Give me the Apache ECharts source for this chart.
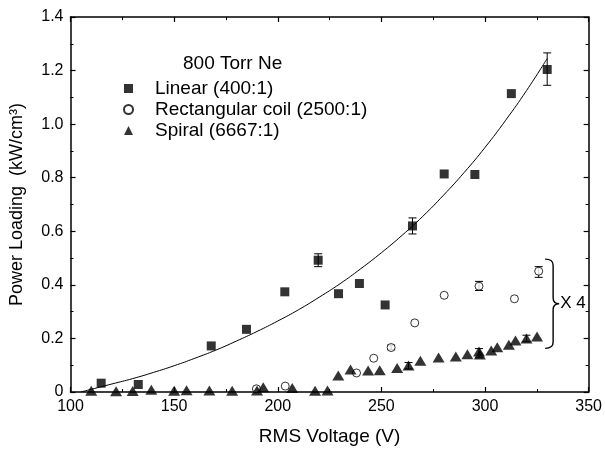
<!DOCTYPE html>
<html>
<head>
<meta charset="utf-8">
<script src="https://cdn.jsdelivr.net/npm/echarts@6/dist/echarts.min.js"></script>
<style>
html,body{margin:0;padding:0;background:#fff;}
#c{width:605px;height:451px;}
</style>
</head>
<body>
<div id="c"></div>
<script>
// ---- data ----
const linearPts = [[114.8,0.033],[132.7,0.028],[167.9,0.172],[184.9,0.234],[203.4,0.374],[219.5,0.492],[229.3,0.367],[239.4,0.405],[251.8,0.325],[265,0.62],[280.3,0.814],[295.1,0.812],[312.7,1.114],[330,1.204]];
const rectPts = [[189.7,0.012],[203.6,0.022],[238,0.071],[246.3,0.126],[254.7,0.166],[266.1,0.258],[280.3,0.361],[297.1,0.395],[314.2,0.348],[325.9,0.451]];
const spiralPts = [[110,0.005],[122,0.003],[130,0.004],[139,0.008],[150,0.005],[156,0.007],[167,0.006],[178,0.005],[190,0.006],[193,0.018],[207,0.015],[218,0.005],[224,0.006],[229.2,0.062],[235.1,0.084],[243.6,0.08],[249.2,0.081],[257.6,0.09],[263.1,0.099],[268.8,0.117],[277.6,0.129],[285.9,0.133],[291.5,0.141],[297.1,0.151],[297.5,0.14],[303,0.155],[305.9,0.167],[311.5,0.176],[314.7,0.192],[320,0.2],[325.1,0.207]];
const fitCurve = [[105,0],[110,0.01],[120,0.03],[130,0.05],[140,0.073],[150,0.098],[160,0.126],[170,0.156],[180,0.19],[190,0.226],[200,0.265],[210,0.307],[220,0.354],[230,0.404],[240,0.46],[250,0.52],[260,0.585],[270,0.656],[280,0.735],[290,0.82],[300,0.913],[310,1.015],[320,1.125],[330,1.245]];
const errLinear = [[219.5,0.468,0.516],[265,0.59,0.65],[330,1.145,1.266]];
const errRect = [[254.7,0.158,0.175],[297.1,0.379,0.413],[325.9,0.428,0.468]];
const errSpiral = [[263.1,0.086,0.11],[297.1,0.128,0.162],[320,0.188,0.212]];
const braceData = [[329,0.496,0.163]];
const braceLabel = 'X 4';
const seriesNames = ['Linear (400:1)','Rectangular coil (2500:1)','Spiral (6667:1)'];
const legendTitle = '800 Torr Ne';
const xName = 'RMS Voltage (V)';
const yName = 'Power Loading  (kW/cm\u00B3)';
const xTicks = {min:100,max:350,interval:50};
const yTicks = {min:0,max:1.4,interval:0.2};

const FONT = 'Liberation Sans, Arial, sans-serif';
const chart = echarts.init(document.getElementById('c'), null, {renderer:'canvas'});

function errRender(params, api){
  const x = api.value(0), lo = api.value(1), hi = api.value(2);
  const a = api.coord([x, lo]), b = api.coord([x, hi]);
  const w = 4;
  const st = {stroke:'#000', lineWidth:1};
  return {type:'group', children:[
    {type:'line', shape:{x1:a[0],y1:a[1],x2:b[0],y2:b[1]}, style:st},
    {type:'line', shape:{x1:a[0]-w,y1:a[1],x2:a[0]+w,y2:a[1]}, style:st},
    {type:'line', shape:{x1:b[0]-w,y1:b[1],x2:b[0]+w,y2:b[1]}, style:st}
  ]};
}
function braceRender(params, api){
  const x = api.value(0);
  const t = api.coord([x, api.value(1)]), b = api.coord([x, api.value(2)]);
  const x0 = t[0], x1 = x0 + 8, x2 = x0 + 14;
  const yT = t[1], yB = b[1], yM = (yT + yB) / 2, r = 6;
  const d = `M${x0} ${yT} Q${x1} ${yT} ${x1} ${yT+r} L${x1} ${yM-r} Q${x1} ${yM} ${x2} ${yM} Q${x1} ${yM} ${x1} ${yM+r} L${x1} ${yB-r} Q${x1} ${yB} ${x0} ${yB}`;
  return {type:'group', children:[
    {type:'path', shape:{pathData:d}, style:{stroke:'#000', fill:null, lineWidth:1.4}},
    {type:'text', x:x2+1, y:yM, style:{text:braceLabel, font:'17px '+FONT, fill:'#000', verticalAlign:'middle', align:'left'}}
  ]};
}

const axisCommon = {
  axisLine:{show:true, onZero:false, lineStyle:{color:'#000', width:1.5}},
  axisTick:{show:true, inside:true, length:5, lineStyle:{color:'#000', width:1.2}},
  minorTick:{show:true, splitNumber:2, length:3, lineStyle:{color:'#000', width:1}},
  splitLine:{show:false}
};

chart.setOption({
  animation:false,
  backgroundColor:'#fff',
  title:{text:legendTitle, left:178, top:49, textStyle:{fontSize:19, fontWeight:'normal', color:'#000', fontFamily:FONT}},
  legend:{
    data:seriesNames, orient:'vertical', left:118, top:74, itemWidth:9, itemHeight:9, itemGap:2,
    textStyle:{fontSize:19, color:'#000', fontFamily:FONT, padding:[0,0,0,17]}
  },
  grid:{left:70.5, right:13, top:17, bottom:55, containLabel:false},
  xAxis:[
    Object.assign({type:'value', min:xTicks.min, max:xTicks.max, interval:xTicks.interval, position:'bottom',
      name:xName, nameLocation:'middle', nameGap:35, nameTextStyle:{fontSize:19, color:'#000', fontFamily:FONT},
      axisLabel:{fontSize:16, color:'#000', fontFamily:FONT, margin:7}}, axisCommon),
    Object.assign({type:'value', min:xTicks.min, max:xTicks.max, interval:xTicks.interval, position:'top',
      axisLabel:{show:false}}, axisCommon)
  ],
  yAxis:[
    Object.assign({type:'value', min:yTicks.min, max:yTicks.max, interval:yTicks.interval, position:'left',
      name:yName, nameLocation:'middle', nameGap:44, nameTextStyle:{fontSize:18, color:'#000', fontFamily:FONT},
      axisLabel:{fontSize:16, color:'#000', fontFamily:FONT, margin:7, formatter:v => v===0 ? '0' : v.toFixed(1)}}, axisCommon),
    Object.assign({type:'value', min:yTicks.min, max:yTicks.max, interval:yTicks.interval, position:'right',
      axisLabel:{show:false}}, axisCommon)
  ],
  series:[
    {name:'fit', type:'line', data:fitCurve, smooth:true, showSymbol:false, symbol:'none',
      lineStyle:{color:'#000', width:1}, z:2, silent:true},
    {name:seriesNames[0], type:'scatter', data:linearPts, symbol:'rect', symbolSize:9,
      itemStyle:{color:'#000'}, z:5},
    {name:seriesNames[1], type:'scatter', data:rectPts, symbol:'circle', symbolSize:8,
      itemStyle:{color:'#fff', borderColor:'#000', borderWidth:1}, z:5},
    {name:seriesNames[2], type:'scatter', data:spiralPts, symbol:'triangle', symbolSize:[12,10],
      itemStyle:{color:'#000'}, z:5},
    {type:'custom', data:errLinear, renderItem:errRender, encode:{x:0, y:[1,2]}, z:4, silent:true},
    {type:'custom', data:errRect, renderItem:errRender, encode:{x:0, y:[1,2]}, z:4, silent:true},
    {type:'custom', data:errSpiral, renderItem:errRender, encode:{x:0, y:[1,2]}, z:4, silent:true},
    {type:'custom', data:braceData, renderItem:braceRender, encode:{x:0, y:[1,2]}, z:4, silent:true, clip:false}
  ]
});
</script>
</body>
</html>
